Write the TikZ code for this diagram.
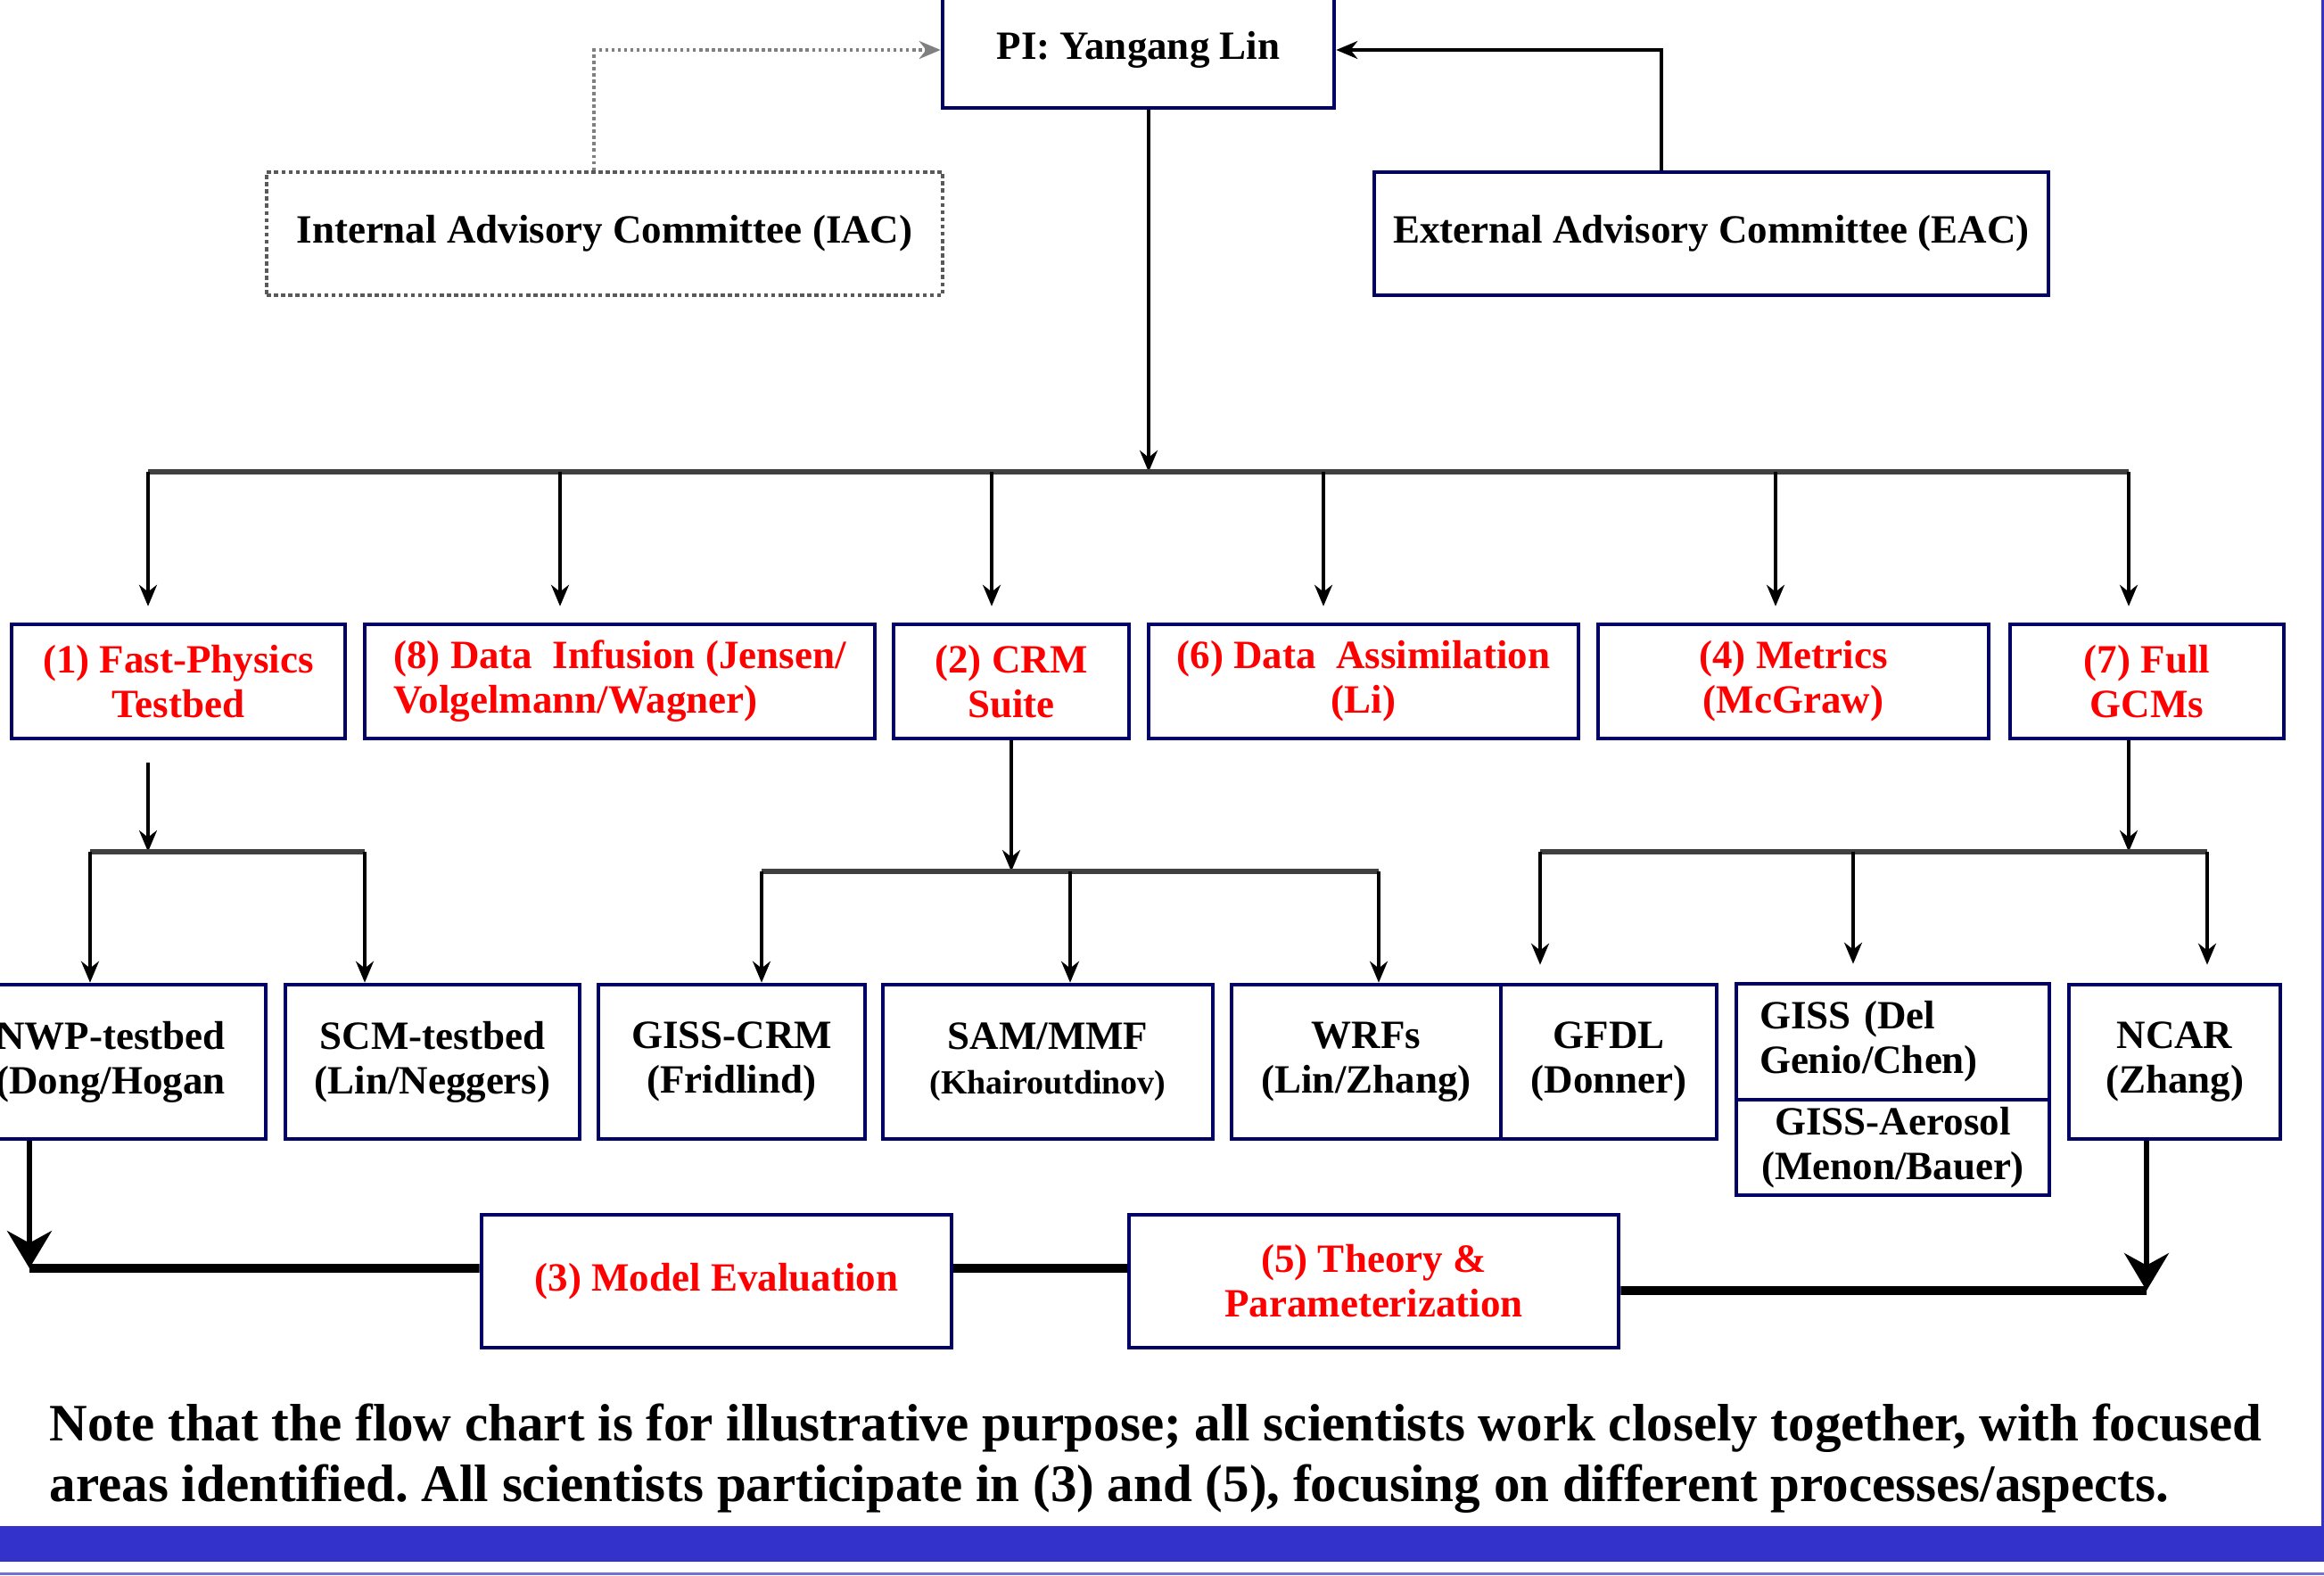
\documentclass[tikz,border=0pt]{standalone}
\usepackage{fontspec}
\setmainfont{Liberation Serif}
\usetikzlibrary{arrows.meta}
\definecolor{navy}{HTML}{000066}
\definecolor{barblue}{HTML}{3333CC}
\definecolor{redtxt}{HTML}{FF0000}
\newcommand\boxfont{\fontsize{12.8}{14.2}\selectfont\bfseries}
\newcommand\notefont{\fontsize{16.8}{19.4}\selectfont\bfseries}
\frenchspacing

\begin{document}
\begin{tikzpicture}[
  box/.style={draw=navy,line width=1.3pt,align=center,inner sep=0pt,font=\boxfont},
  task/.style={box,text=redtxt,minimum height=1.28cm},
  model/.style={box,minimum height=1.73cm},
  arr/.style={line width=1pt,-{Stealth[length=2.4mm,width=2mm]}},
  bus/.style={line width=1.6pt,draw=black!75},
  fat/.style={line width=2.8pt},
  fatarr/.style={line width=1.5pt,-{Stealth[length=4.2mm,width=5mm]}}
]
\useasboundingbox (0,0) rectangle (26.06,-17.66);
\fill[white] (0,0) rectangle (26.06,-17.66);

\node[box,minimum width=4.39cm,minimum height=1.30cm] (pi) at (12.765,-0.56) {PI: Yangang Lin};
\node[box,draw=gray!70!black,densely dotted,line width=1.1pt,minimum width=7.58cm,minimum height=1.38cm] (iac) at (6.78,-2.62) {Internal Advisory Committee (IAC)};
\node[box,minimum width=7.56cm,minimum height=1.38cm] (eac) at (19.19,-2.62) {External Advisory Committee (EAC)};

\node[task,minimum width=3.74cm] (fast) at (2.00,-7.64) {(1) Fast-Physics\\Testbed};
\node[task,minimum width=5.72cm,align=left] (infusion) at (6.95,-7.64) {(8) Data\ \ Infusion (Jensen/\\Volgelmann/Wagner)};
\node[task,minimum width=2.64cm] (crm) at (11.34,-7.64) {(2) CRM\\Suite};
\node[task,minimum width=4.82cm] (assim) at (15.29,-7.64) {(6) Data\ \ Assimilation\\(Li)};
\node[task,minimum width=4.38cm] (metrics) at (20.11,-7.64) {(4) Metrics\\(McGraw)};
\node[task,minimum width=3.07cm] (gcms) at (24.075,-7.64) {(7) Full\\GCMs};

\node[model,minimum width=3.48cm] (nwp) at (1.24,-11.905) {NWP-testbed\\(Dong/Hogan};
\node[model,minimum width=3.30cm] (scm) at (4.85,-11.905) {SCM-testbed\\(Lin/Neggers)};
\node[model,minimum width=2.99cm] (gisscrm) at (8.205,-11.905) {GISS-CRM\\(Fridlind)};
\node[model,minimum width=3.70cm] (sam) at (11.75,-11.905) {SAM/MMF\\{\fontsize{10.8}{12}\selectfont (Khairoutdinov)}};
\node[model,minimum width=3.02cm] (wrf) at (15.32,-11.905) {WRFs\\(Lin/Zhang)};
\node[model,minimum width=2.42cm] (gfdl) at (18.04,-11.905) {GFDL\\(Donner)};
\node[box,minimum width=3.51cm,minimum height=1.30cm,text width=2.99cm,align=left] (gissgc) at (21.225,-11.68) {GISS (Del\\Genio/Chen)};
\node[box,minimum width=3.51cm,minimum height=1.07cm] (gissaer) at (21.225,-12.865) {GISS-Aerosol\\(Menon/Bauer)};
\node[model,minimum width=2.37cm] (ncar) at (24.385,-11.905) {NCAR\\(Zhang)};

\node[box,text=redtxt,minimum width=5.27cm,minimum height=1.49cm] (eval) at (8.035,-14.365) {(3) Model Evaluation};
\node[box,text=redtxt,minimum width=5.49cm,minimum height=1.49cm] (theory) at (15.405,-14.365) {(5) Theory \&\\Parameterization};

\node[anchor=base west,inner sep=0pt,font=\notefont] (note) at (0.55,-16.15) {Note that the flow chart is for illustrative purpose; all scientists work closely together, with focused};
\node[anchor=base west,inner sep=0pt,font=\notefont] (notetwo) at (0.55,-16.83) {areas identified. All scientists participate in (3) and (5), focusing on different processes/aspects.};

\draw[arr,draw=gray,densely dotted,line width=1.3pt] ([xshift=-1.2mm]iac.north) |- (pi.west);
\draw[arr] ([xshift=-5.6mm]eac.north) |- (pi.east);

\coordinate (top) at (12.88,-5.29);
\draw[arr] (pi.south -| top) -- (top);
\draw[bus] (1.66,-5.29) -- (23.87,-5.29);
\foreach \n/\x in {fast/1.66,infusion/6.28,crm/11.12,assim/14.84,metrics/19.91,gcms/23.87}{
  \coordinate (d) at (\x,-5.29);
  \draw[arr,shorten >=1.8mm] (d) -- (d |- \n.north);
}

\coordinate (fastbus) at (1.66,-9.55);
\draw[arr,shorten <=2.5mm] (fast.south -| fastbus) -- (fastbus);
\draw[bus] (1.01,-9.55) -- (4.09,-9.55);
\foreach \n/\x in {nwp/1.01,scm/4.09}{
  \coordinate (d) at (\x,-9.55);
  \draw[arr] (d) -- (d |- \n.north);
}

\coordinate (crmbus) at (11.34,-9.77);
\draw[arr] (crm.south) -- (crmbus);
\draw[bus] (8.54,-9.77) -- (15.46,-9.77);
\foreach \n/\x in {gisscrm/8.54,sam/12.00,wrf/15.46}{
  \coordinate (d) at (\x,-9.77);
  \draw[arr] (d) -- (d |- \n.north);
}

\coordinate (gcmbus) at (23.87,-9.55);
\draw[arr] (gcms.south -| gcmbus) -- (gcmbus);
\draw[bus] (17.27,-9.55) -- (24.75,-9.55);
\foreach \n/\x in {gfdl/17.27,gissgc/20.78,ncar/24.75}{
  \coordinate (d) at (\x,-9.55);
  \draw[arr,shorten >=2mm] (d) -- (d |- \n.north);
}

\coordinate (nwpfoot) at (0.33,-14.22);
\coordinate (ncarfoot) at (24.07,-14.47);
\draw[fatarr] (nwp.south -| nwpfoot) -- (nwpfoot);
\draw[fat] (nwpfoot) -- ([yshift=1.45mm]eval.west);
\draw[fat] ([yshift=1.45mm]eval.east) -- ([yshift=1.45mm]theory.west);
\draw[fat] ([yshift=-1.05mm]theory.east) -- (ncarfoot);
\draw[fatarr] (ncar.south -| ncarfoot) -- (ncarfoot);

\fill[barblue] (0,-17.11) rectangle (26.06,-17.51);
\fill[barblue] (26.03,0) rectangle (26.06,-17.11);
\fill[barblue!70] (0,-17.63) rectangle (26.06,-17.66);
\end{tikzpicture}
\end{document}
